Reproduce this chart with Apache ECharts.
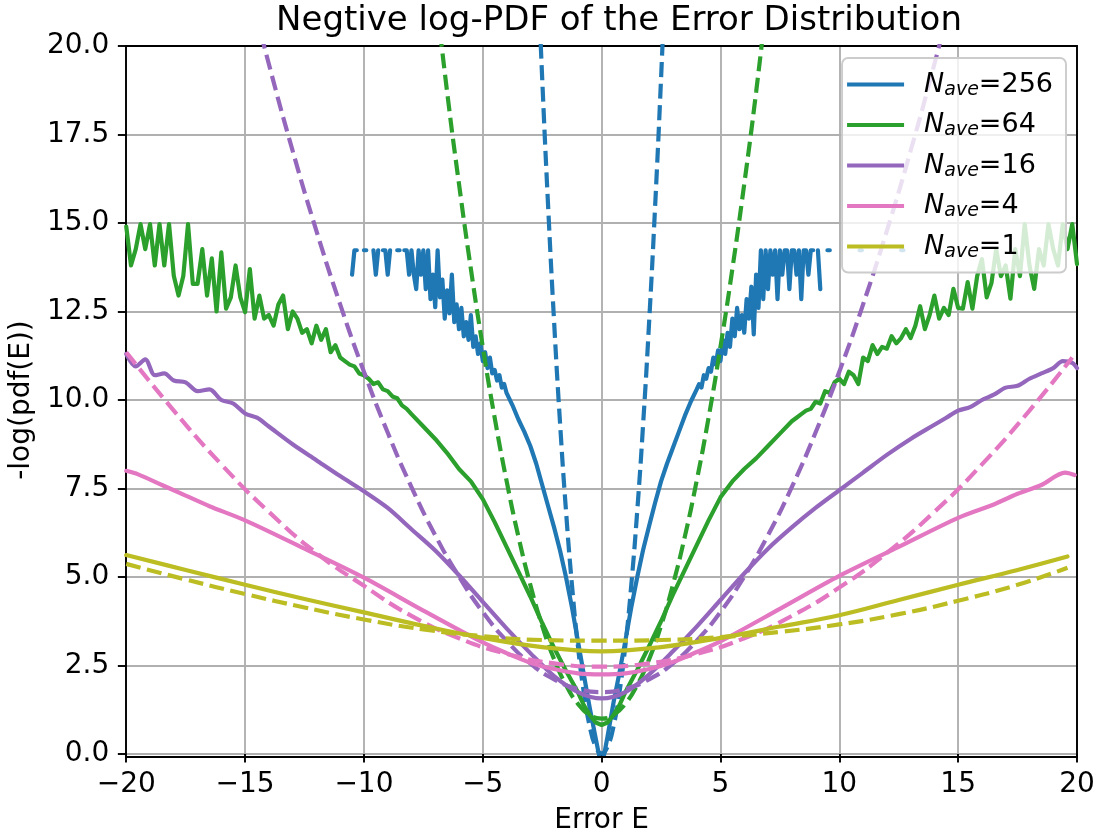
<!DOCTYPE html>
<html><head><meta charset="utf-8">
<script src="https://cdn.jsdelivr.net/npm/echarts@6/dist/echarts.min.js"></script>
<style>html,body{margin:0;padding:0;background:#fff}#c{width:1104px;height:840px}</style>
</head><body><div id="c"></div>
<script>
// ---------- data ----------
const legendNames = ['256', '64', '16', '4', '1'];
const colors = ['#1f77b4', '#2ca02c', '#9467bd', '#e377c2', '#bcbd22'];

// N_ave = 256, empirical (solid)
const blueTailLeftX0 = -10.5, blueTailStep = 0.1;
const blueTailLeftY = [13.54, 14.23, 14.23, null, null, 14.23, 14.23, null, null, 14.23,
  13.54, 14.23, null, 14.23, 14.23, 13.54, 14.23, null, null, 14.23,
  14.23, null, 14.23, 14.23, 13.54, 14.23, 13.54, 13.13, 14.23, 13.54,
  14.23, 13.13, 14.23, 12.85, 13.54, 12.62, 14.23, 12.9, 13.4, 12.3,
  13.1, 12.45, 13.54, 12.2, 12.7, 12.0, 12.6, 11.8, 12.2, 11.7,
  12.4, 11.5, 11.8, 11.3, 11.6, 11.1, 11.35, 10.9, 11.2, 10.75,
  10.85, 10.55, 10.7, 10.35, 10.45, 10.2];
const blueCoreX = [-3.75, -3.5, -3.25, -3, -2.75, -2.5, -2.25, -2, -1.75, -1.5, -1.25, -1, -0.75, -0.5, -0.25, 0,
  0.25, 0.5, 0.75, 1, 1.25, 1.5, 1.75, 2, 2.25, 2.5, 2.75, 3, 3.25, 3.5, 3.75, 4.0];
const blueCoreY = [9.85, 9.45, 9.1, 8.7, 8.2, 7.6, 7.0, 6.4, 5.75, 5.0, 4.15, 3.2, 2.25, 1.3, 0.45, -0.4,
  0.5, 1.45, 2.3, 3.2, 4.15, 5.0, 5.78, 6.45, 7.1, 7.7, 8.2, 8.65, 9.1, 9.55, 9.95, 10.3];
const blueTailRightX0 = 4.1;
const blueTailRightY = [10.45, 10.35, 10.7, 10.6, 10.9, 10.8, 11.2, 11.0, 11.4, 11.1,
  11.7, 11.3, 11.9, 11.5, 12.3, 11.8, 12.6, 12.0, 12.4, 11.9,
  12.85, 12.3, 13.2, 11.85, 13.54, 12.6, 14.23, 12.85, 14.23, 13.13,
  14.23, 13.54, 14.23, 12.85, 14.23, 13.54, 14.23, 14.23, 13.13, 14.23,
  14.23, 13.54, 14.23, 12.85, 14.23, 14.23, 13.54, 14.23, 14.23, null,
  14.23, 13.13, null, null, 14.23, 14.23];
const blueSpeckX = [10.85, 10.95, null, 12.6, 12.7];
const blueSpeckY = [14.23, 14.23, null, 14.23, 14.23];

// N_ave = 64, empirical (solid)
const greenTailStep = 0.2;
const greenTailLeftX0 = -20;
const greenTailLeftY = [14.9, 13.8, 14.26, 14.97, 14.26, 14.97, 13.8, 14.97, 13.8, 14.97,
  13.51, 12.95, 13.5, 14.97, 13.28, 13.28, 14.26, 12.95, 14.0, 12.5,
  14.17, 12.58, 12.9, 13.8, 12.9, 12.48, 13.7, 12.3, 12.95, 12.3,
  12.4, 12.1, 12.7, 12.95, 12.0, 12.5, 12.3, 11.9, 12.0, 11.6,
  12.1, 11.7, 12.0, 11.35, 11.55, 11.2, 11.1, 11.0, 10.95, 10.75,
  10.7, 10.6, 10.45, 10.5, 10.3, 10.25, 10.1, 10.05, 9.85, 9.75, 9.6];
const greenCoreX = [-7.5, -7, -6.5, -6, -5.5, -5, -4.5, -4, -3.5, -3, -2.5, -2, -1.5, -1, -0.75, -0.5, -0.25, 0,
  0.25, 0.5, 0.75, 1, 1.5, 2, 2.5, 3, 3.5, 4, 4.5, 5, 5.5, 6, 6.5, 7, 7.5];
const greenCoreY = [9.25, 8.9, 8.5, 8.05, 7.7, 7.2, 6.55, 5.85, 5.15, 4.45, 3.7, 3.0, 2.35, 1.75, 1.38, 1.1, 0.89, 0.82,
  0.89, 1.1, 1.38, 1.75, 2.38, 3.05, 3.75, 4.5, 5.2, 5.9, 6.6, 7.25, 7.7, 8.05, 8.35, 8.7, 9.05];
const greenTailRightX0 = 8.0;
const greenTailRightY = [9.4, 9.5, 9.6, 9.7, 9.75, 9.95, 9.9, 10.25, 10.2, 10.5,
  10.6, 10.45, 10.8, 10.7, 10.45, 11.2, 11.1, 11.55, 11.3, 11.5,
  11.45, 11.8, 11.6, 11.75, 12.0, 11.75, 12.1, 12.65, 12.0, 12.4,
  12.95, 12.3, 12.6, 12.4, 13.14, 12.6, 12.58, 13.33, 12.58, 13.5,
  13.98, 12.9, 13.3, 14.26, 13.5, 13.8, 12.86, 14.26, 13.5, 14.97,
  13.8, 13.14, 14.26, 13.8, 14.97, 14.26, 13.8, 14.97, 14.26, 14.97, 13.84];

// N_ave = 16, empirical (solid)
const purpleX = [-20, -19.6, -19.2, -18.8, -18.4, -18, -17.5, -17, -16.5, -16, -15.5, -15, -14.5, -14, -13, -12, -11, -10,
  -9, -8, -7, -6, -5, -4, -3, -2, -1, 0, 1, 2, 3, 4, 5, 6, 7, 8, 9, 10, 11, 12, 13, 14,
  14.5, 15, 15.5, 16, 16.5, 17, 17.5, 18, 18.5, 19, 19.4, 19.8, 20];
const purpleY = [11.3, 10.95, 11.15, 10.7, 10.75, 10.55, 10.5, 10.25, 10.3, 10.0, 9.9, 9.62, 9.5, 9.25, 8.75, 8.3, 7.85, 7.42,
  6.95, 6.35, 5.75, 5.05, 4.3, 3.55, 2.85, 2.2, 1.75, 1.57, 1.75, 2.25, 2.9, 3.6, 4.35, 5.1, 5.8, 6.4, 6.95, 7.45, 7.95, 8.45, 8.9, 9.3,
  9.5, 9.7, 9.8, 10.0, 10.15, 10.35, 10.4, 10.6, 10.75, 10.9, 11.1, 11.05, 10.9];

// N_ave = 4, empirical (solid)
const pinkX = [-20, -19.5, -18.5, -17.5, -16.5, -15, -12.5, -10, -7.5, -5, -4, -3, -2, -1, 0, 1, 2, 3, 4, 5, 7.5, 10, 12.5, 15, 16.5, 17.5, 18.5, 19.5, 19.9];
const pinkY = [8.0, 7.9, 7.6, 7.3, 7.0, 6.6, 5.8, 4.98, 4.05, 3.15, 2.85, 2.58, 2.4, 2.28, 2.25, 2.28, 2.4, 2.6, 2.88, 3.18, 4.1, 5.03, 5.85, 6.67, 7.05, 7.35, 7.6, 7.95, 7.88];

// N_ave = 1, empirical (solid)
const yellowX = [-20, -17.5, -15, -12.5, -10, -7.5, -5, -2.5, 0, 2.5, 5, 7.5, 10, 12.5, 15, 17.5, 19.6];
const yellowY = [5.62, 5.2, 4.78, 4.38, 4.0, 3.62, 3.28, 3.02, 2.9, 3.02, 3.28, 3.6, 3.92, 4.35, 4.78, 5.2, 5.58];

// Gaussian references (dashed)
const blueFitX = [-2.75, -2.5, -2.25, -2, -1.75, -1.5, -1.25, -1, -0.75, -0.5, -0.25, 0, 0.25, 0.5, 0.75, 1, 1.25, 1.5, 1.75, 2, 2.25, 2.5, 2.75];
const blueFitY = [23.1, 19.08, 15.46, 12.22, 9.36, 6.88, 4.79, 3.07, 1.74, 0.78, 0.21, 0.02, 0.21, 0.78, 1.74, 3.07, 4.79, 6.88, 9.36, 12.22, 15.46, 19.08, 23.1];
const greenFitX = [-7, -6.5, -6, -5.5, -5, -4.5, -4, -3.5, -3, -2.5, -2, -1.5, -1, -0.5, 0, 0.5, 1, 1.5, 2, 2.5, 3, 3.5, 4, 4.5, 5, 5.5, 6, 6.5, 7];
const greenFitY = [21.6, 18.7, 16.1, 13.7, 11.5, 9.5, 7.72, 6.14, 4.78, 3.62, 2.68, 1.95, 1.42, 1.1, 1.0, 1.1, 1.42, 1.95, 2.68, 3.62, 4.78, 6.14, 7.72, 9.5, 11.5, 13.7, 16.1, 18.7, 21.6];
const purpleFitX = [-15, -14, -13, -12, -11, -10, -9, -8, -7, -6, -5, -4, -3, -2, -1, 0, 1, 2, 3, 4, 5, 6, 7, 8, 9, 10, 11, 12, 13, 14, 15];
const purpleFitY = [22.1, 19.49, 17.04, 14.78, 12.7, 10.8, 9.08, 7.54, 6.18, 5.01, 4.01, 3.2, 2.56, 2.11, 1.84, 1.75, 1.84, 2.11, 2.56, 3.2, 4.01, 5.01, 6.18, 7.54, 9.08, 10.8, 12.7, 14.78, 17.04, 19.49, 22.1];
const pinkFitX = [-20, -18, -16, -14, -12, -10, -8, -6, -4, -2, 0, 2, 4, 6, 8, 10, 12, 14, 16, 18, 19.8];
const pinkFitY = [11.35, 9.7, 8.18, 6.84, 5.68, 4.75, 3.9, 3.27, 2.83, 2.56, 2.47, 2.56, 2.83, 3.27, 3.9, 4.7, 5.68, 6.84, 8.18, 9.7, 11.2];
const yellowFitX = [-20, -17.5, -15, -12.5, -10, -7.5, -5, -2.5, 0, 2.5, 5, 7.5, 10, 12.5, 15, 17.5, 19.6];
const yellowFitY = [5.37, 4.93, 4.52, 4.14, 3.8, 3.52, 3.33, 3.22, 3.2, 3.22, 3.3, 3.45, 3.66, 3.95, 4.33, 4.78, 5.26];

// ---------- build ----------
function zip(xs, ys) { return xs.map((x, i) => [x, (ys[i] === null || x === null) ? '-' : ys[i]]); }
function grid(x0, dx, ys) { return ys.map((y, i) => [+(x0 + i * dx).toFixed(3), y === null ? '-' : y]); }

const blueData = [].concat(grid(blueTailLeftX0, blueTailStep, blueTailLeftY), zip(blueCoreX, blueCoreY),
  grid(blueTailRightX0, blueTailStep, blueTailRightY), [[10.4, '-']], zip(blueSpeckX, blueSpeckY));
const greenData = [].concat(grid(greenTailLeftX0, greenTailStep, greenTailLeftY), zip(greenCoreX, greenCoreY),
  grid(greenTailRightX0, greenTailStep, greenTailRightY));

const solidData = [blueData, greenData, zip(purpleX, purpleY), zip(pinkX, pinkY), zip(yellowX, yellowY)];
const fitData = [zip(blueFitX, blueFitY), zip(greenFitX, greenFitY), zip(purpleFitX, purpleFitY), zip(pinkFitX, pinkFitY), zip(yellowFitX, yellowFitY)];
const solidSmooth = [false, false, 0.3, 0.3, 0.4];

const LW = 4.2;
const series = [];
legendNames.forEach((n, i) => {
  series.push({
    name: 'Nave=' + n, type: 'line', data: solidData[i], showSymbol: false, symbol: 'none',
    smooth: solidSmooth[i], connectNulls: false, clip: true,
    lineStyle: { color: colors[i], width: LW, join: 'round', cap: 'round' },
    itemStyle: { color: colors[i] }, emphasis: { disabled: true }, silent: true
  });
  series.push({
    name: 'fit' + n, type: 'line', data: fitData[i], showSymbol: false, symbol: 'none',
    smooth: 0.5, clip: true,
    lineStyle: { color: colors[i], width: LW, type: [15, 6.5], cap: 'butt', join: 'round' },
    itemStyle: { color: colors[i] }, emphasis: { disabled: true }, silent: true
  });
});

const FONT = 'DejaVu Sans';
const chart = echarts.init(document.getElementById('c'), null, { renderer: 'canvas' });
chart.setOption({
  animation: false,
  backgroundColor: '#ffffff',
  textStyle: { fontFamily: FONT },
  grid: { left: 126, right: 27, top: 46, bottom: 83, containLabel: false },
  xAxis: {
    type: 'value', min: -20, max: 20, interval: 5,
    axisLine: { show: false, onZero: false },
    axisTick: { show: true, length: 8.4, lineStyle: { color: '#000', width: 1.9 } },
    axisLabel: { margin: 17, fontSize: 28, color: '#000', fontFamily: FONT,
      formatter: v => v < 0 ? '\u2212' + Math.abs(v) : String(v) },
    splitLine: { show: true, lineStyle: { color: '#b0b0b0', width: 1.9 } },
    name: 'Error E', nameLocation: 'middle', nameGap: 53,
    nameTextStyle: { fontSize: 28, color: '#000', fontFamily: FONT }
  },
  yAxis: {
    type: 'value', min: 0, max: 20, interval: 2.5,
    axisLine: { show: false, onZero: false },
    axisTick: { show: true, length: 8.4, lineStyle: { color: '#000', width: 1.9 } },
    axisLabel: { margin: 17, fontSize: 28, color: '#000', fontFamily: FONT, formatter: v => v.toFixed(1) },
    splitLine: { show: true, lineStyle: { color: '#b0b0b0', width: 1.9 } },
    name: '-log(pdf(E))', nameLocation: 'middle', nameGap: 71, nameRotate: 90,
    nameTextStyle: { fontSize: 28, color: '#000', fontFamily: FONT }
  },
  legend: {
    data: legendNames.map(n => 'Nave=' + n),
    orient: 'vertical', right: 38, top: 58,
    icon: 'rect', itemWidth: 57, itemHeight: 4.2, itemGap: 12,
    padding: [13, 13, 11, 5],
    backgroundColor: 'rgba(255,255,255,0.8)', borderColor: '#cccccc', borderWidth: 1.9, borderRadius: 6,
    selectedMode: false,
    formatter: name => '{p|}{i|N}{s|ave}{t|=' + name.split('=')[1] + '}',
    textStyle: {
      color: '#000', fontFamily: FONT,
      rich: {
        p: { width: 15, height: 30 },
        i: { fontSize: 27, fontStyle: 'italic', fontFamily: FONT, color: '#000', lineHeight: 30 },
        s: { fontSize: 19, fontStyle: 'italic', fontFamily: FONT, color: '#000', lineHeight: 17, verticalAlign: 'bottom' },
        t: { fontSize: 27, fontFamily: FONT, color: '#000', lineHeight: 30 }
      }
    }
  },
  graphic: [
    { type: 'rect', z: 3, silent: true, shape: { x: 126, y: 46, width: 951, height: 711 },
      style: { fill: null, stroke: '#000', lineWidth: 1.9 } },
    { type: 'text', z: 5, silent: true, x: 619, y: 21,
      style: { text: 'Negtive log-PDF of the Error Distribution', font: '34px "DejaVu Sans"', fill: '#000',
        textAlign: 'center', textVerticalAlign: 'middle' } }
  ],
  series: series
});
</script></body></html>
